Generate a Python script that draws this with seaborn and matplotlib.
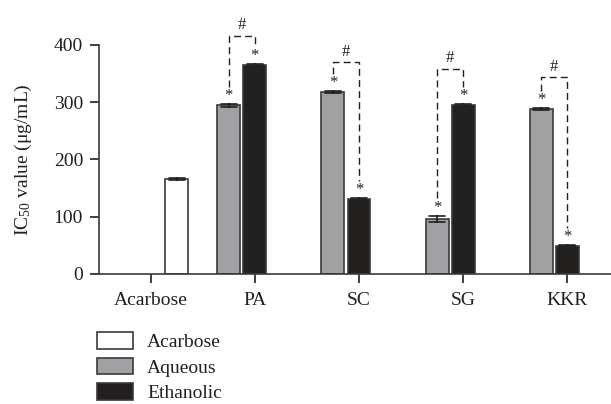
import numpy as np
import pandas as pd
import matplotlib
matplotlib.use("Agg")
import matplotlib.pyplot as plt
import seaborn as sns
from matplotlib.patches import Patch

# ---- data ----
categories = ["Acarbose", "PA", "SC", "SG", "KKR"]
acarbose_val = [166]
acarbose_err = [2]
aqueous_vals = [294, 317, 96, 288]
aqueous_errs = [2, 2, 6, 2]
ethanolic_vals = [364, 131, 295, 49]
ethanolic_errs = [2, 2, 2, 1]
extract_names = ["PA", "SC", "SG", "KKR"]
bracket_tops = [415, 369, 358, 343]
hue_order = ["Aqueous", "Ethanolic", "Acarbose"]
legend_order = ["Acarbose", "Aqueous", "Ethanolic"]
colors = {"Acarbose": "#ffffff", "Aqueous": "#a0a1a5", "Ethanolic": "#231f20"}
yticks = [0, 100, 200, 300, 400]

# build long table (two points per bar -> min/max interval = value +/- err)
rows = []
def add(cat, grp, v, e):
    rows.append((cat, grp, v - e))
    rows.append((cat, grp, v + e))
add("Acarbose", "Acarbose", acarbose_val[0], acarbose_err[0])
for c, v, e in zip(extract_names, aqueous_vals, aqueous_errs):
    add(c, "Aqueous", v, e)
for c, v, e in zip(extract_names, ethanolic_vals, ethanolic_errs):
    add(c, "Ethanolic", v, e)
df = pd.DataFrame(rows, columns=["cat", "grp", "val"])

sns.set_style("ticks")
serif = ["Liberation Serif", "DejaVu Serif"]
plt.rcParams["font.family"] = serif
plt.rcParams["mathtext.fontset"] = "custom"
plt.rcParams["mathtext.rm"] = "Liberation Serif"
plt.rcParams["mathtext.it"] = "Liberation Serif:italic"

FS = 14
fig = plt.figure(figsize=(6.11, 4.04), dpi=100)
ax = fig.add_axes([99 / 611, 1 - 274 / 404, (611 - 99) / 611, (274 - 44.7) / 404])

sns.barplot(data=df, x="cat", y="val", hue="grp", order=categories,
            hue_order=hue_order, palette=colors, width=0.75, gap=0.12,
            estimator="mean", errorbar=("pi", 100), capsize=0.45,
            err_kws={"color": "#231f20", "linewidth": 1.2},
            edgecolor="#3a3a3a", linewidth=1.2, legend=False, ax=ax)

ax.set_xlim(-0.496, 4.42)
ax.set_ylim(0, 400)
ax.set_yticks(yticks)
ax.set_xlabel("")
ax.set_ylabel("IC$_{50}$ value (μg/mL)", fontsize=FS, color="#231f20", labelpad=14)
ax.tick_params(axis="both", labelsize=FS, colors="#231f20", length=6.5, width=1.2,
               direction="out", pad=5)
ax.tick_params(axis="x", pad=6.5)
for s in ["top", "right"]:
    ax.spines[s].set_visible(False)
for s in ["left", "bottom"]:
    ax.spines[s].set_linewidth(1.2)
    ax.spines[s].set_color("#3a3a3a")

# annotations: stars and dashed brackets, positioned from the data
off_aq, off_et = -0.25, 0.0
for i, name in enumerate(extract_names):
    xi = categories.index(name)
    xa, xe = xi + off_aq, xi + off_et
    ya = aqueous_vals[i] + aqueous_errs[i]
    ye = ethanolic_vals[i] + ethanolic_errs[i]
    ax.text(xa, ya, "*", ha="center", va="bottom", fontsize=12, color="#231f20", clip_on=False)
    ax.text(xe, ye, "*", ha="center", va="bottom", fontsize=12, color="#231f20", clip_on=False)
    top = bracket_tops[i]
    ax.plot([xa, xa, xe, xe], [ya + 30, top, top, ye + 30], color="#231f20",
            lw=1.0, ls=(0, (5, 3)), clip_on=False)
    ax.text((xa + xe) / 2, top + 5, "#", ha="center", va="bottom", fontsize=12,
            color="#231f20", clip_on=False)

handles = [Patch(facecolor=colors[k], edgecolor="#3a3a3a", linewidth=1.2) for k in legend_order]
fig.legend(handles, legend_order, loc="upper left",
           bbox_to_anchor=(97 / 611, 1 - 332 / 404), bbox_transform=fig.transFigure,
           frameon=False, fontsize=FS, handlelength=1.85, handleheight=0.93,
           handletextpad=0.72, labelspacing=0.34, borderpad=0, borderaxespad=0,
           labelcolor="#231f20")

fig.savefig("out.png", dpi=100)
